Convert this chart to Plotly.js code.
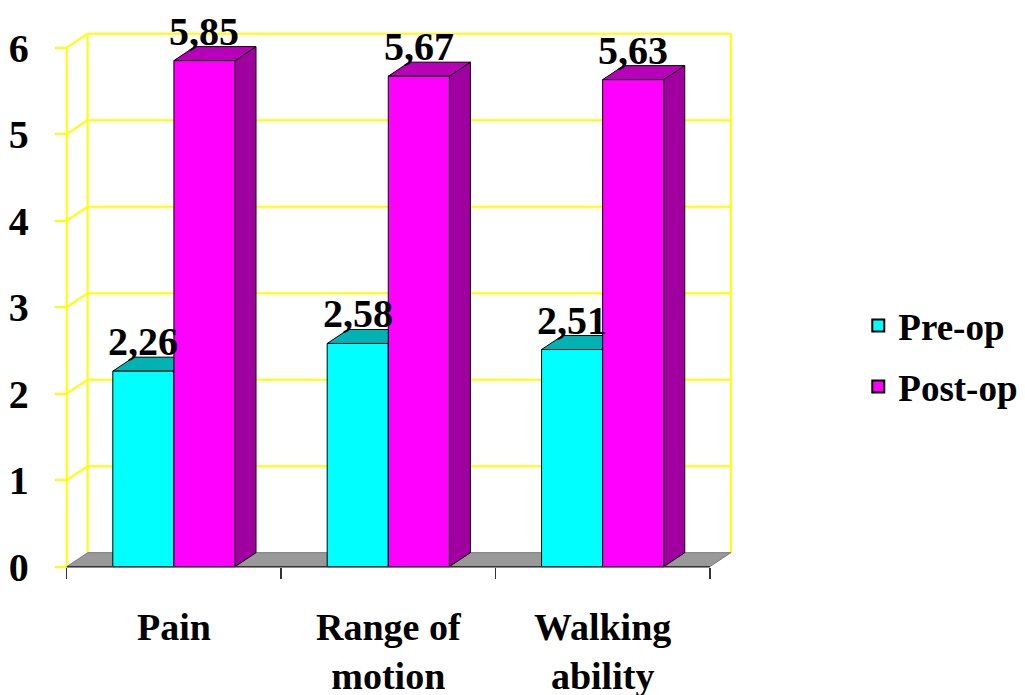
<!DOCTYPE html>
<html>
<head>
<meta charset="utf-8">
<script src="https://cdn.plot.ly/plotly-3.0.1.min.js"></script>
<style>
  html, body { margin: 0; padding: 0; background: #ffffff; }
  #chart { width: 1025px; height: 695px; }
</style>
</head>
<body>
<div id="chart"></div>
<script>
// Scores before and after the operation, per outcome
const categories = ['Pain', 'Range of<br>motion', 'Walking<br>ability'];
const preOp = [2.26, 2.58, 2.51];
const postOp = [5.85, 5.67, 5.63];
const seriesNames = ['Pre-op', 'Post-op'];
const yTicks = [0, 1, 2, 3, 4, 5, 6];

// Page and plot geometry
const W = 1025, H = 695;
const PX_CAT = 214.3;   // pixels per category
const PX_UNIT = 86.5;   // pixels per y unit
const FRONT_X = 67;     // pixel of the front y axis
const FRONT_Y = 567;    // pixel of y = 0 on the front plane
const xRange = [-0.55, 2.65];
const yRange = [-0.05, 6.25];
const mL = Math.round(FRONT_X - (-0.5 - xRange[0]) * PX_CAT);
const plotW = (xRange[1] - xRange[0]) * PX_CAT;
const mR = Math.round(W - mL - plotW);
const mB = Math.round(H - (FRONT_Y + (0 - yRange[0]) * PX_UNIT));
const plotH = (yRange[1] - yRange[0]) * PX_UNIT;
const mT = Math.round(H - mB - plotH);

// Depth of the 3D box, in axis units
const DX = 21 / PX_CAT;
const DY = 14 / PX_UNIT;
const YMAX = 6;
const BARGAP = 0.43;
const BAR_W = (1 - BARGAP) / 2;

const FONT = 'Liberation Serif, Times New Roman, serif';
const YELLOW = '#ffff00';
const faceColors = [
  { front: '#00ffff', top: '#00b2b2', side: '#009a9a' },
  { front: '#ff00ff', top: '#b800b8', side: '#a000a0' }
];

const seriesValues = [preOp, postOp];
const fmt = v => v.toFixed(2).replace('.', ',');

// Walls, grid and floor
const shapes = [];
const yLine = (x0, y0, x1, y1, color, width) => ({
  type: 'line', xref: 'x', yref: 'y', x0, y0, x1, y1,
  line: { color, width }, layer: 'below'
});
const xL = -0.5, xRt = categories.length - 0.5;
yTicks.filter(k => k > 0).forEach(k => {
  shapes.push(yLine(xL + DX, k + DY, xRt + DX, k + DY, YELLOW, 2));
  shapes.push(yLine(xL, k, xL + DX, k + DY, YELLOW, 2));
});
shapes.push(yLine(xL + DX, DY, xL + DX, YMAX + DY, YELLOW, 2));
shapes.push(yLine(xRt + DX, DY, xRt + DX, YMAX + DY, YELLOW, 2));
shapes.push(yLine(xL, 0, xL, YMAX, YELLOW, 2));
shapes.push({
  type: 'path', xref: 'x', yref: 'y', layer: 'below',
  path: `M${xL},0 L${xRt},0 L${xRt + DX},${DY} L${xL + DX},${DY} Z`,
  fillcolor: '#999999', line: { color: '#7a7a7a', width: 1 }
});

// Top and side faces of every bar
seriesValues.forEach((vals, s) => {
  vals.forEach((v, i) => {
    const left = i - BAR_W + s * BAR_W;
    const right = left + BAR_W;
    shapes.push({
      type: 'path', xref: 'x', yref: 'y', layer: 'below',
      path: `M${right},0 L${right + DX},${DY} L${right + DX},${v + DY} L${right},${v} Z`,
      fillcolor: faceColors[s].side, line: { color: '#000000', width: 1 }
    });
    shapes.push({
      type: 'path', xref: 'x', yref: 'y', layer: 'below',
      path: `M${left},${v} L${right},${v} L${right + DX},${v + DY} L${left + DX},${v + DY} Z`,
      fillcolor: faceColors[s].top, line: { color: '#000000', width: 1 }
    });
  });
});

// Front edge of the floor
shapes.push({
  type: 'line', xref: 'x', yref: 'y', x0: xL, y0: 0, x1: xRt, y1: 0,
  line: { color: '#333333', width: 1.5 }, layer: 'above'
});

// Value labels
const annotations = [];
seriesValues.forEach((vals, s) => {
  vals.forEach((v, i) => {
    annotations.push({
      xref: 'x', yref: 'y', x: i - BAR_W + s * BAR_W + BAR_W / 2, y: v,
      text: fmt(v), showarrow: false, yanchor: 'bottom', yshift: 5,
      font: { family: FONT, size: 40, weight: 700, color: '#000000' }
    });
  });
});

const traces = seriesValues.map((vals, s) => ({
  type: 'bar', x: categories, y: vals, name: seriesNames[s],
  marker: { color: faceColors[s].front, line: { color: '#000000', width: 1 } },
  showlegend: false, hoverinfo: 'skip'
}));
// Legend entries with large square keys
seriesNames.forEach((name, s) => {
  traces.push({
    type: 'scatter', mode: 'markers', x: [null], y: [null], name,
    legendgroup: name,
    marker: { symbol: 'square', size: 16, color: faceColors[s].front,
              line: { color: '#000000', width: 1.5 } }
  });
});

const layout = {
  width: W, height: H,
  margin: { l: mL, r: mR, t: mT, b: mB, pad: 0, autoexpand: false },
  paper_bgcolor: '#ffffff', plot_bgcolor: 'rgba(0,0,0,0)',
  barmode: 'group', bargap: BARGAP, bargroupgap: 0,
  showlegend: true,
  legend: {
    x: (858 - mL) / plotW, xanchor: 'left',
    y: (H - mB - 295) / plotH, yanchor: 'top',
    font: { family: FONT, size: 37, weight: 700, color: '#000000' },
    tracegroupgap: 10, itemsizing: 'constant', itemwidth: 30,
    bgcolor: 'rgba(0,0,0,0)'
  },
  xaxis: {
    type: 'category', range: xRange, anchor: 'free',
    position: (0 - yRange[0]) / (yRange[1] - yRange[0]),
    showline: false, showgrid: false, zeroline: false,
    ticks: 'outside', tickson: 'boundaries', ticklen: 11,
    tickcolor: '#333333', tickwidth: 1.5,
    ticklabelstandoff: 34,
    tickfont: { family: FONT, size: 38, weight: 700, color: '#000000' }
  },
  yaxis: {
    range: yRange, anchor: 'free',
    position: (-0.5 - xRange[0]) / (xRange[1] - xRange[0]),
    tickvals: yTicks, ticktext: yTicks.map(String),
    showline: false, showgrid: false, zeroline: false,
    ticks: 'outside', ticklen: 12, tickcolor: YELLOW, tickwidth: 2,
    ticklabelstandoff: 18,
    tickfont: { family: FONT, size: 40, weight: 700, color: '#000000' }
  },
  shapes, annotations
};

Plotly.newPlot('chart', traces, layout, { displayModeBar: false, staticPlot: true });
</script>
</body>
</html>
